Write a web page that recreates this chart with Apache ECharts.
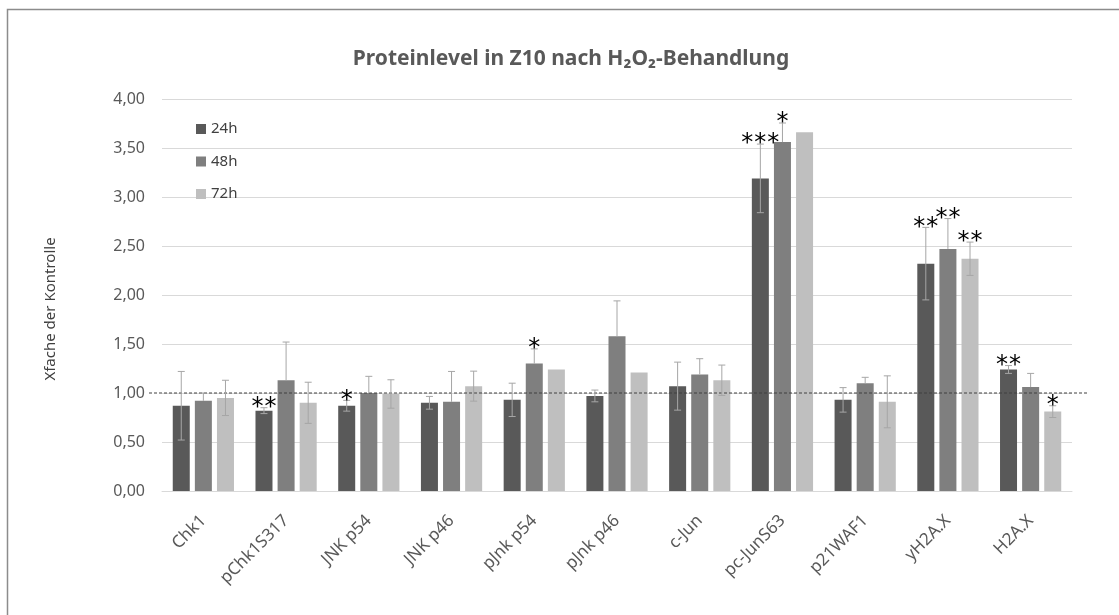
<!DOCTYPE html>
<html>
<head>
<meta charset="utf-8">
<script src="https://cdn.jsdelivr.net/npm/echarts@6/dist/echarts.min.js"></script>
<style>html,body{margin:0;padding:0;background:#fff}#c{width:1119px;height:615px}</style>
</head>
<body>
<div id="c"></div>
<script>
const categories = ['Chk1','pChk1S317','JNK p54','JNK p46','pJnk p54','pJnk p46','c-Jun','pc-JunS63','p21WAF1','yH2A.X','H2A.X'];
const seriesNames = ['24h','48h','72h'];
const v24 = [0.87, 0.82, 0.87, 0.90, 0.93, 0.97, 1.07, 3.19, 0.93, 2.32, 1.24];
const v48 = [0.92, 1.13, 1.00, 0.91, 1.30, 1.58, 1.19, 3.56, 1.10, 2.47, 1.06];
const v72 = [0.95, 0.90, 0.99, 1.07, 1.24, 1.21, 1.13, 3.66, 0.91, 2.37, 0.81];
const e24 = [0.35, 0.03, 0.055, 0.065, 0.17, 0.06, 0.245, 0.35, 0.125, 0.37, 0.04];
const e48 = [0.08, 0.39, 0.17, 0.31, 0.15, 0.36, 0.16, 0.195, 0.06, 0.31, 0.14];
const e72 = [0.18, 0.21, 0.145, 0.153, 0, 0, 0.155, 0, 0.265, 0.17, 0.06];
const sig24 = ['', '**', '*', '', '', '', '', '***', '', '**', '**'];
const sig48 = ['', '', '', '', '*', '', '', '*', '', '**', ''];
const sig72 = ['', '', '', '', '', '', '', '', '', '**', '*'];
const errPlusOnly = [false, true, false];
const yTicks = [0, 0.5, 1, 1.5, 2, 2.5, 3, 3.5, 4];
const refLine = 1;

const colors = ['#595959', '#7f7f7f', '#bfbfbf'];
const vals = [v24, v48, v72];
const errs = [e24, e48, e72];
const sigs = [sig24, sig48, sig72];
const CAT_GAP = 0.26, BAR_GAP = 0.3;

const chart = echarts.init(document.getElementById('c'), null, {renderer: 'canvas'});

function errRenderer(s) {
  return function (params, api) {
    const i = api.value(0), v = api.value(1), e = api.value(2);
    const band = api.size([1, 0])[0];
    const bw = band * (1 - CAT_GAP) / (3 + 2 * BAR_GAP);
    const off = (s - 1) * bw * (1 + BAR_GAP);
    const base = api.coord([i, v]);
    const x = base[0] + off;
    const children = [];
    const errStyle = {stroke: '#a6a6a6', lineWidth: 1};
    let yTop = base[1];
    if (e > 0) {
      const top = api.coord([i, v + e])[1];
      const bot = errPlusOnly[s] ? base[1] : api.coord([i, v - e])[1];
      yTop = top;
      children.push({type: 'line', shape: {x1: x, y1: top, x2: x, y2: bot}, style: errStyle});
      children.push({type: 'line', shape: {x1: x - 3.5, y1: top, x2: x + 3.5, y2: top}, style: errStyle});
      if (!errPlusOnly[s]) {
        children.push({type: 'line', shape: {x1: x - 3.5, y1: bot, x2: x + 3.5, y2: bot}, style: errStyle});
      }
    }
    const st = sigs[s][i] || '';
    const n = st.length;
    for (let k = 0; k < n; k++) {
      children.push({
        type: 'text',
        style: {
          text: '*', x: x + (k - (n - 1) / 2) * 13, y: yTop,
          textAlign: 'center', textVerticalAlign: 'middle',
          fontFamily: 'DejaVu Sans', fontSize: 24, fill: '#000'
        }
      });
    }
    return {type: 'group', children: children};
  };
}

const series = [];
for (let s = 0; s < 3; s++) {
  series.push({
    name: seriesNames[s], type: 'bar', data: vals[s],
    barGap: (BAR_GAP * 100) + '%', barCategoryGap: (CAT_GAP * 100) + '%',
    itemStyle: {color: colors[s]}, z: 2
  });
}
for (let s = 0; s < 3; s++) {
  series.push({
    type: 'custom', renderItem: errRenderer(s), z: 5, silent: true,
    data: categories.map((c, i) => [i, vals[s][i], errs[s][i]]),
    encode: {x: 0, y: 1}
  });
}
series.push({
  type: 'custom', z: 4, silent: true, data: [[0, refLine]],
  renderItem: function (params, api) {
    const cs = params.coordSys;
    const y = api.coord([0, api.value(1)])[1];
    return {type: 'line', shape: {x1: cs.x - 13, y1: y, x2: cs.x + cs.width + 17, y2: y},
      style: {stroke: '#404040', lineWidth: 1, lineDash: [3, 2]}};
  }
});

chart.setOption({
  animation: false,
  backgroundColor: '#fff',
  title: {
    text: 'Proteinlevel in Z10 nach H₂O₂-Behandlung',
    left: 571, top: 49, textAlign: 'center', padding: 0,
    textStyle: {fontFamily: 'Noto Sans', fontSize: 21, fontWeight: 'bold', color: '#595959'}
  },
  legend: {
    orient: 'vertical', left: 196, top: 121.5, padding: 0, itemWidth: 10, itemHeight: 10, itemGap: 17.5,
    icon: 'rect', data: seriesNames,
    textStyle: {fontFamily: 'Noto Sans', fontSize: 15, color: '#404040'}
  },
  grid: {left: 162, right: 47, top: 99, bottom: 124},
  xAxis: {
    type: 'category', data: categories,
    axisTick: {show: false},
    axisLine: {lineStyle: {color: '#d9d9d9', width: 1}},
    axisLabel: {rotate: 45, interval: 0, margin: 27,
      fontFamily: 'Noto Sans', fontSize: 17, color: '#595959'}
  },
  yAxis: {
    type: 'value', min: 0, max: 4, interval: 0.5,
    name: 'Xfache der Kontrolle', nameLocation: 'middle', nameGap: 104,
    nameTextStyle: {fontFamily: 'Noto Sans', fontSize: 15, color: '#404040', padding: [0, 28, 0, 0]},
    axisLabel: {margin: 17, fontFamily: 'Noto Sans', fontSize: 16, color: '#595959',
      formatter: v => v.toFixed(2).replace('.', ',')},
    splitLine: {lineStyle: {color: '#d9d9d9'}}
  },
  graphic: [{
    type: 'rect', shape: {x: 7.5, y: 9.5, width: 1400, height: 900},
    style: {fill: 'none', stroke: '#8c8c8c', lineWidth: 1.5}, z: 100, silent: true
  }],
  series: series
});
</script>
</body>
</html>
